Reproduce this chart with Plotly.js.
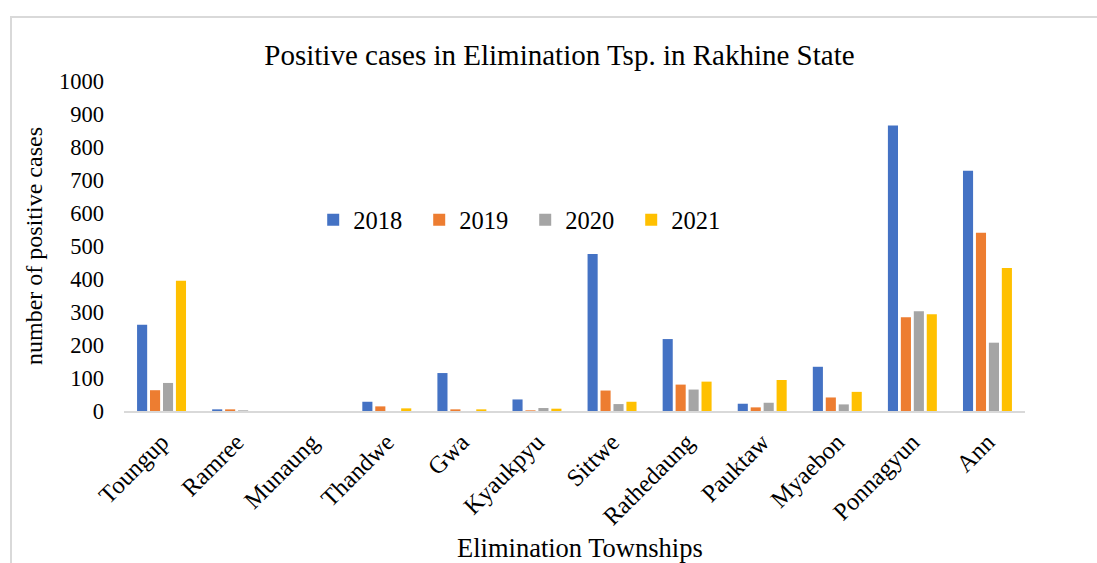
<!DOCTYPE html>
<html>
<head>
<meta charset="utf-8">
<script src="https://cdn.plot.ly/plotly-3.0.1.min.js"></script>
<style>
  html, body { margin: 0; padding: 0; background: #ffffff; overflow: hidden; }
  #chart { width: 1097px; height: 563px; position: relative; }
  #frame {
    position: absolute; left: 10px; top: 16px; width: 2000px; height: 2000px;
    border-left: 2px solid #d9d9d9; border-top: 2px solid #d9d9d9;
    pointer-events: none;
  }
</style>
</head>
<body>
<div id="chart"></div>
<div id="frame"></div>
<script>
// Townships in the Rakhine State elimination list
const townships = ["Toungup", "Ramree", "Munaung", "Thandwe", "Gwa", "Kyaukpyu",
  "Sittwe", "Rathedaung", "Pauktaw", "Myaebon", "Ponnagyun", "Ann"];

// Positive cases per year
const cases2018 = [261, 5, 0, 28, 115, 35, 476, 218, 22, 134, 865, 728];
const cases2019 = [63, 5, 0, 14, 5, 2, 62, 80, 11, 41, 284, 540];
const cases2020 = [85, 2, 0, 0, 0, 9, 21, 65, 25, 20, 302, 207];
const cases2021 = [395, 0, 0, 8, 5, 7, 28, 89, 94, 58, 293, 433];

const years = ["2018", "2019", "2020", "2021"];
const seriesValues = [cases2018, cases2019, cases2020, cases2021];
const seriesColors = ["#4472C4", "#ED7D31", "#A5A5A5", "#FFC000"];

const font = "Liberation Serif, Times New Roman, serif";

const traces = years.map((y, i) => ({
  type: "bar",
  name: y,
  x: townships,
  y: seriesValues[i],
  marker: { color: seriesColors[i] },
  hoverinfo: "x+y+name"
}));

const layout = {
  width: 1097,
  height: 563,
  paper_bgcolor: "rgba(0,0,0,0)",
  plot_bgcolor: "rgba(0,0,0,0)",
  margin: { l: 124, r: 72, t: 81, b: 151.5 },
  font: { family: font, size: 22, color: "#000000" },
  title: {
    text: "Positive cases in Elimination Tsp. in Rakhine State",
    font: { family: font, size: 29, color: "#000000" },
    x: 0.51, xanchor: "center", y: 0.902, yanchor: "middle"
  },
  barmode: "group",
  bargap: 0.31,
  bargroupgap: 0.22,
  showlegend: true,
  legend: {
    orientation: "h",
    x: 0.21, xanchor: "left",
    y: 0.579, yanchor: "middle",
    font: { family: font, size: 24.5, color: "#000000" },
    entrywidth: 61, entrywidthmode: "pixels",
    itemwidth: 30,
    bgcolor: "rgba(0,0,0,0)"
  },
  xaxis: {
    type: "category",
    tickangle: -45,
    tickfont: { family: font, size: 24.5 },
    ticklabelstandoff: 5,
    showline: true, linecolor: "#d9d9d9", linewidth: 2,
    ticks: "", showgrid: false, zeroline: false,
    automargin: false
  },
  yaxis: {
    range: [0, 1000],
    dtick: 100,
    tickfont: { family: font, size: 22.5 },
    showgrid: false, zeroline: false, showline: false,
    ticks: "", ticklabelstandoff: 19,
    automargin: false,
    title: { text: "number of positive cases", font: { family: font, size: 24 }, standoff: 9 }
  },
  // x-axis title placed below the rotated township labels
  annotations: [{
    text: "Elimination Townships",
    xref: "paper", yref: "paper",
    x: 0.506, y: -0.414,
    xanchor: "center", yanchor: "middle",
    showarrow: false,
    font: { family: font, size: 26.5, color: "#000000" }
  }]
};

Plotly.newPlot("chart", traces, layout, { displayModeBar: false, staticPlot: true });
</script>
</body>
</html>
